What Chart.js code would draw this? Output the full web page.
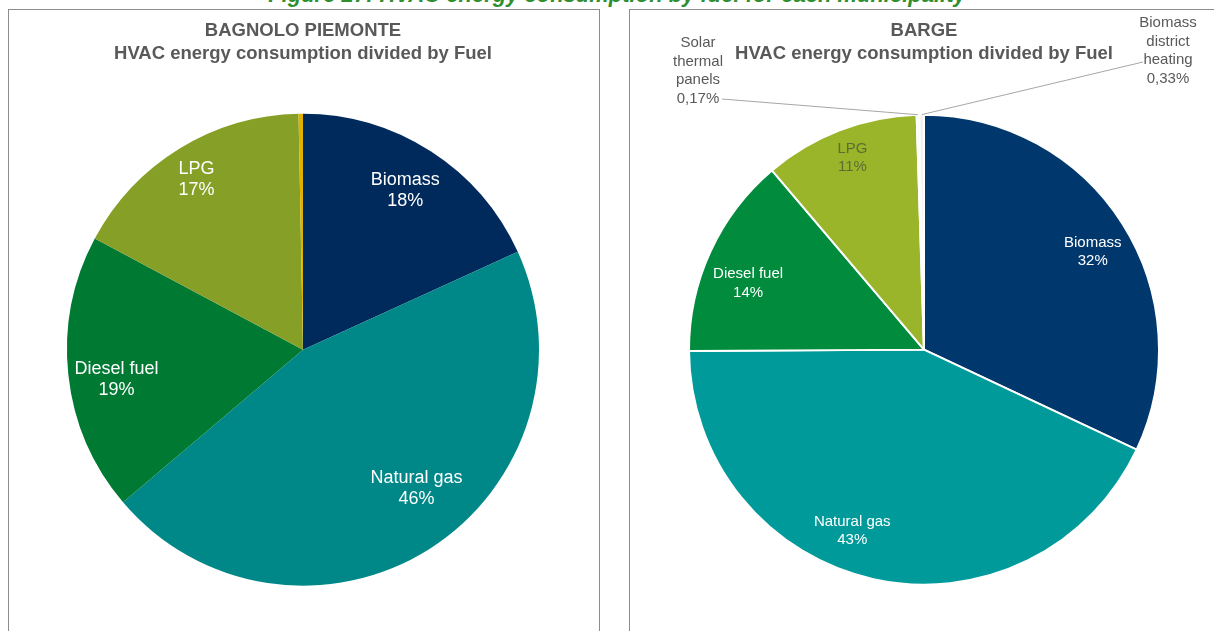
<!DOCTYPE html>
<html>
<head>
<meta charset="utf-8">
<script src="https://cdn.jsdelivr.net/npm/chart.js@4"></script>
<style>
  body { margin: 0; background: #fff; width: 1214px; height: 631px; overflow: hidden; position: relative; font-family: "Liberation Sans", Arial, sans-serif; }
  #caption { position: absolute; left: 0; width: 1234px; top: -16px; text-align: center; font-style: italic; font-size: 22px; line-height: 22px; color: #2f8f2f; font-weight: bold; }
  .panel { position: absolute; top: 9px; border: 1px solid #8c8c8c; border-bottom: none; box-sizing: border-box; }
  #p1 { left: 8px; width: 592px; height: 640px; }
  #p2 { left: 629px; width: 600px; height: 640px; }
  canvas { position: absolute; left: 0; top: 0; }
</style>
</head>
<body>
<div id="caption">Figure 27: HVAC energy consumption by fuel for each municipality</div>
<div class="panel" id="p1"><canvas id="bagnolo" width="591" height="621"></canvas></div>
<div class="panel" id="p2"><canvas id="barge" width="585" height="621"></canvas></div>
<script>
// Bagnolo Piemonte
const bagnoloLabels = ['Biomass', 'Natural gas', 'Diesel fuel', 'LPG', 'Solar thermal panels'];
const bagnoloValues = [18.2, 45.6, 19.0, 16.9, 0.3];
const bagnoloColors = ['#002a5c', '#008888', '#007a33', '#86a027', '#e2b100'];

// Barge
const bargeLabels = ['Biomass', 'Natural gas', 'Diesel fuel', 'LPG', 'Solar thermal panels', 'Biomass district heating'];
const bargeValues = [32.0, 42.9, 13.9, 10.7, 0.17, 0.33];
const bargeColors = ['#00386e', '#009a9a', '#008c3c', '#9ab52a', '#e8ecd0', '#f2f2f2'];

function fmtPct(v) {
  if (v >= 1) return Math.round(v) + '%';
  return v.toFixed(2).replace('.', ',') + '%';
}

// draws the slice labels inside the pie and the callout labels for tiny slices
const sliceLabels = {
  id: 'sliceLabels',
  afterDatasetsDraw(chart, args, opts) {
    const ctx = chart.ctx;
    const meta = chart.getDatasetMeta(0);
    const values = chart.data.datasets[0].data;
    const names = chart.data.labels;
    ctx.save();
    ctx.textAlign = 'center';
    ctx.textBaseline = 'middle';
    ctx.font = opts.size + 'px "Liberation Sans", Arial, sans-serif';
    meta.data.forEach((arc, i) => {
      const p = arc.getProps(['x', 'y', 'startAngle', 'endAngle', 'outerRadius'], true);
      const mid = (p.startAngle + p.endAngle) / 2;
      const ext = opts.callouts && opts.callouts[i];
      if (ext) {
        const lines = names[i].split(' ');
        if (lines.length > 3) lines.splice(1, 2, lines[1] + ' ' + lines[2]);
        lines.push(fmtPct(values[i]));
        ctx.fillStyle = '#595959';
        lines.forEach((t, k) => ctx.fillText(t, ext.x, ext.y + k * opts.lineH));
        ctx.strokeStyle = '#a6a6a6';
        ctx.lineWidth = 1;
        ctx.beginPath();
        ctx.moveTo(ext.lx, ext.ly);
        ctx.lineTo(p.x + Math.cos(mid) * p.outerRadius, p.y + Math.sin(mid) * p.outerRadius);
        ctx.stroke();
        return;
      }
      if (values[i] < 1) return;
      const f = (opts.radius && opts.radius[i]) || 0.8;
      const sh = (opts.shift && opts.shift[i]) || 0;
      const a = mid + sh;
      const x = p.x + Math.cos(a) * p.outerRadius * f;
      const y = p.y + Math.sin(a) * p.outerRadius * f;
      ctx.fillStyle = (opts.colors && opts.colors[i]) || '#fff';
      ctx.fillText(names[i], x, y - opts.lineH / 2);
      ctx.fillText(fmtPct(values[i]), x, y + opts.lineH / 2);
    });
    ctx.restore();
  }
};

function makePie(id, title, labels, values, colors, border, labelOpts, padLR) {
  return new Chart(document.getElementById(id), {
    type: 'pie',
    data: {
      labels: labels,
      datasets: [{
        data: values,
        backgroundColor: colors,
        borderColor: '#ffffff',
        borderWidth: border
      }]
    },
    options: {
      responsive: false,
      animation: false,
      layout: { padding: { top: 0, bottom: 45, left: padLR[0], right: padLR[1] } },
      plugins: {
        legend: { display: false },
        tooltip: { enabled: false },
        title: {
          display: true,
          text: title,
          color: '#595959',
          font: { family: '"Liberation Sans", Arial, sans-serif', size: 18.5, weight: 'bold', lineHeight: 1.25 },
          padding: { top: 9, bottom: 48 }
        },
        sliceLabels: labelOpts
      }
    },
    plugins: [sliceLabels]
  });
}

makePie('bagnolo', ['BAGNOLO PIEMONTE', 'HVAC energy consumption divided by Fuel'],
  bagnoloLabels, bagnoloValues, bagnoloColors, 0,
  { size: 18, lineH: 21, shift: [0, -0.12, -0.05, -0.01], radius: [0.8, 0.76, 0.8, 0.85] },
  [58, 61]);

makePie('barge', ['BARGE', 'HVAC energy consumption divided by Fuel'],
  bargeLabels, bargeValues, bargeColors, 2,
  {
    size: 15, lineH: 18.5,
    colors: ['#ffffff', '#ffffff', '#ffffff', '#5d6b35'],
    shift: [0.04, 0.16, -0.07, 0.01], radius: [0.83, 0.83, 0.8, 0.87],
    callouts: { 4: { x: 68, y: 33, lx: 92, ly: 89 }, 5: { x: 538, y: 13, lx: 513, ly: 52 } }
  },
  [58, 55]);
</script>
</body>
</html>
